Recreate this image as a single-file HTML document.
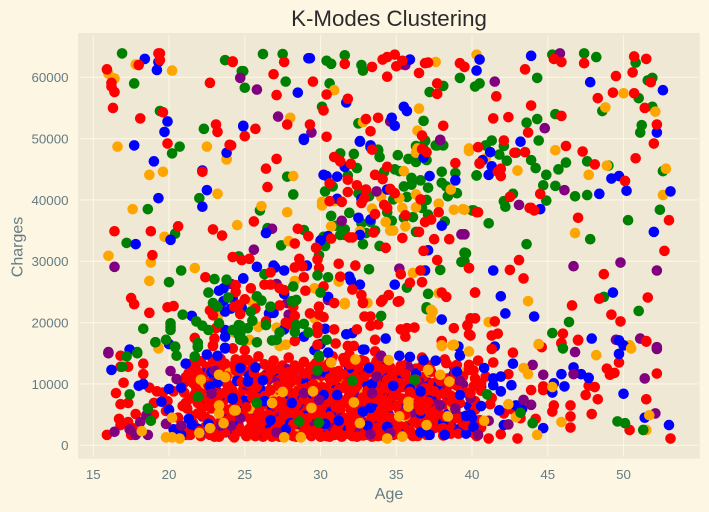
<!DOCTYPE html>
<html lang="en">
<head>
<meta charset="utf-8">
<title>K-Modes Clustering</title>
<style>
html,body{margin:0;padding:0;background:#FDF6E3;}
body{width:709px;height:512px;overflow:hidden;}
svg{display:block;font-family:"Liberation Sans",Arial,sans-serif;}
.tick{font-size:13.3px;fill:#657b83;}
.axis-title{font-size:16px;fill:#657b83;}
</style>
</head>
<body>
<svg id="chart" width="709" height="512" viewBox="0 0 709 512" xmlns="http://www.w3.org/2000/svg">
<rect x="0" y="0" width="709" height="512" fill="#FDF6E3"/>
<rect x="78" y="33" width="621.7" height="425.7" fill="#EEE8D5"/>
<g id="grid"></g>
<g id="marks"></g>
<g id="xticks"></g>
<g id="yticks"></g>
<text x="389" y="26" text-anchor="middle" font-size="22.3" fill="#2b2b2b">K-Modes Clustering</text>
<text class="axis-title" x="389" y="499" text-anchor="middle">Age</text>
<text class="axis-title" x="22.5" y="247" text-anchor="middle" transform="rotate(-90 22.5 247)">Charges</text>
</svg>
<script>
const xTickValues=[15,20,25,30,35,40,45,50];
const yTickValues=[0,10000,20000,30000,40000,50000,60000];

const carpetBlue=[[21.5,3000],[22.4,6500],[23.1,9000],[24.0,3000],[24.8,6800],[25.5,2600],[26.1,5000],[26.6,8200],[27.2,10800],[27.9,4400],[28.4,7400],[28.9,2400],[29.3,10300],[30.0,5800],[30.7,3000],[31.4,9600],[32.0,6200],[32.6,12000],[33.2,2500],[33.9,8000],[34.5,5000],[35.1,11000],[35.8,3200],[36.4,6800],[37.0,10500],[37.7,4400],[38.4,7600],[39.1,2600],[39.8,6400],[40.6,9500]];
const carpetPurple=[[22.0,8200],[23.4,2600],[24.6,5200],[25.7,3300],[26.4,11500],[27.5,6300],[28.2,11800],[28.7,3800],[29.6,1900],[30.4,12500],[31.1,5000],[31.8,2400],[32.4,8700],[33.6,3500],[34.2,12800],[35.0,2700],[35.6,9700],[36.2,4300],[37.4,8200],[38.6,3400],[39.4,9900]];
const carpetOrange=[[22.9,3700],[24.1,8300],[25.2,1500],[26.9,7600],[27.7,3000],[28.6,9600],[29.8,3300],[30.9,7400],[31.5,1700],[32.2,10400],[33.0,5200],[34.8,6900],[35.4,12400],[36.7,2500],[38.0,5800],[39.6,12100]];
const carpetRed=[
[20.7,2300],[20.9,6400],[21.0,10200],[21.2,2100],[21.6,3600],[21.9,5200],[21.4,7600],[21.8,9300],[21.3,11800],[21.7,12900],
[22.1,1500],[22.4,3000],[22.7,4100],[22.2,6100],[22.6,7400],[22.3,9100],[22.8,10400],[22.5,12800],[22.9,13900],
[23.1,1900],[23.5,2900],[23.8,4500],[23.2,6000],[23.6,7300],[23.9,9200],[23.3,10800],[23.7,12400],[23.4,14100],
[24.2,1600],[24.6,3200],[24.9,4700],[24.3,6300],[24.7,8000],[24.1,9700],[24.5,11300],[24.8,12900],[24.4,14000],[24.0,2400],[24.4,5400],[24.9,9100],
[25.1,1500],[25.5,2100],[25.8,3900],[25.2,5100],[25.6,6600],[25.9,7900],[25.3,8900],[25.7,10600],[25.1,12000],[25.5,13300],[25.9,14500],[25.4,3000],
[26.2,1400],[26.6,2500],[26.9,3600],[26.3,4800],[26.7,5900],[26.1,7200],[26.5,8800],[26.8,9900],[26.2,11100],[26.6,12700],[26.9,13800],[26.4,6800],
[27.1,1800],[27.4,3100],[27.8,4200],[27.2,5300],[27.6,6700],[27.9,7700],[27.3,9000],[27.7,10300],[27.1,11700],[27.5,13000],[27.9,14300],[27.5,2300],
[28.2,1500],[28.6,2900],[28.9,3500],[28.3,5100],[28.7,6200],[28.1,7500],[28.5,8900],[28.8,9800],[28.2,11200],[28.6,12500],[28.9,13600],[28.4,4200],
[29.1,2000],[29.5,2800],[29.9,4300],[29.2,5600],[29.6,6800],[29.0,7900],[29.4,9300],[29.8,10700],[29.2,11600],[29.5,12900],[29.9,14200],[29.3,3500],
[30.1,1600],[30.5,2400],[30.8,3900],[30.2,4900],[30.6,6400],[30.9,7600],[30.3,9100],[30.7,10200],[30.1,11400],[30.5,13200],[30.8,14500],[30.4,8300],
[31.2,1700],[31.6,2900],[31.9,4600],[31.3,5700],[31.7,6900],[31.1,8000],[31.5,9400],[31.8,10800],[31.2,12100],[31.6,13500],[31.9,14800],[31.4,3600],
[32.1,1500],[32.5,2600],[32.9,3700],[32.2,5300],[32.6,6600],[32.0,7800],[32.4,9500],[32.8,10300],[32.2,11600],[32.5,12600],[32.9,13700],[32.3,4400],
[33.1,1700],[33.5,2400],[33.8,4200],[33.2,5400],[33.6,6900],[33.0,7700],[33.4,9300],[33.8,10900],[33.2,11900],[33.6,13100],[33.9,14200],[33.3,3100],
[34.1,1600],[34.5,2700],[34.9,3900],[34.2,5100],[34.6,6400],[34.0,7400],[34.4,8700],[34.8,10500],[34.2,11700],[34.6,12700],[34.0,9700],
[35.1,1800],[35.5,3000],[35.9,4400],[35.2,5700],[35.6,7000],[35.0,8300],[35.4,9500],[35.8,10700],[35.2,12200],[35.7,13200],
[36.1,1500],[36.5,3400],[36.9,4600],[36.2,6000],[36.6,7200],[36.0,8400],[36.4,9800],[36.8,11100],[36.3,12500],[36.7,14300],
[37.1,2200],[37.5,3800],[37.8,5100],[37.2,6300],[37.6,7400],[37.0,8600],[37.4,10100],[37.8,11300],[37.2,13000],
[38.1,1600],[38.5,3100],[38.9,5400],[38.2,6700],[38.6,8100],[38.0,9400],[38.4,10900],[38.8,12800],[38.2,14000],
[39.1,1900],[39.4,3600],[39.8,5000],[39.2,6900],[39.6,8600],[39.0,9700],[39.4,11200],[39.8,12300],
[40.1,2000],[40.5,4100],[40.2,7200],[40.6,8900],[40.1,12200]];
const fillBlue=[
[21.4,4100],[21.9,2700],[22.6,2000],[22.3,11700],[23.4,8100],[23.9,2200],[24.5,10500],[24.2,3800],[25.0,7300],[25.3,11400],[25.8,1800],[26.0,9300],[26.5,3700],[26.8,6400],[27.0,12200],[27.6,8300],[28.0,3600],[28.5,6600],[28.8,10900],[29.0,4800],[29.5,7700],[30.0,2100],[30.3,11900],[30.7,5500],[31.0,9000],[31.5,3200],[31.9,12600],[32.3,7100],[32.7,4000],[33.1,9800],[33.5,6000],[33.9,2400],[34.3,11000],[34.7,7800],[35.0,4300],[35.5,1800],[35.9,9200],[36.3,11700],[36.6,5200],[37.0,2800],[37.3,7500],[37.8,9800],[38.1,3700],[38.4,5100],[38.8,11600],[39.2,8200],[39.6,1900],[40.0,4500]];
const fillPurple=[
[22.2,4700],[23.0,11200],[23.6,5600],[24.4,2200],[25.1,9800],[25.6,4400],[26.3,2000],[26.9,10400],[27.3,4600],[27.8,12400],[28.3,2600],[28.8,7200],[29.4,4000],[29.7,11500],[30.2,6900],[30.8,2800],[31.3,4400],[31.7,10300],[32.4,2100],[32.8,5800],[33.3,7400],[33.8,3800],[34.1,9100],[34.6,3000],[35.2,6500],[35.8,12700],[36.0,5200],[36.5,10400],[37.1,3300],[37.6,6700],[38.3,9200],[38.9,12200],[39.3,4600],[39.9,7700]];
const fillOrange=[[22.4,10000],[24.0,11900],[25.4,6000],[27.0,9400],[28.4,1800],[29.7,9900],[31.3,11000],[32.9,8500],[34.3,2000],[35.6,4800],[37.2,11900],[38.7,6300]];
const fillRed=[
[21.1,1700],[21.5,4800],[21.2,6000],[21.7,8300],[21.5,10600],[21.9,11600],[21.3,13200],
[22.0,2300],[22.4,4600],[22.8,6000],[22.1,8000],[22.6,9800],[22.2,11100],[22.7,12000],
[23.0,1400],[23.3,3600],[23.7,2100],[23.9,5800],[23.2,7600],[23.6,8500],[23.1,10000],[23.8,11200],[23.4,13200],
[24.3,1300],[24.1,4500],[24.7,2300],[24.5,7000],[24.2,8900],[24.8,10300],[24.4,12200],[24.9,13900],
[25.2,2500],[25.7,1500],[25.4,4200],[25.9,5200],[25.1,6200],[25.5,7800],[25.8,9600],[25.3,10000],[25.6,11800],[25.2,13900],
[26.0,3000],[26.4,1800],[26.8,1400],[26.2,4000],[26.6,5000],[26.0,6200],[26.9,7100],[26.3,8000],[26.7,9000],[26.0,10400],[26.5,11000],[26.9,12300],[26.3,13200],
[27.0,2600],[27.3,1400],[27.8,2500],[27.2,3900],[27.6,5000],[27.0,6500],[27.4,7300],[27.9,8800],[27.2,9700],[27.6,11000],[27.9,11900],[27.3,12400],
[28.0,2200],[28.4,1400],[28.8,1700],[28.2,3400],[28.6,4800],[28.0,5800],[28.4,6600],[28.9,7500],[28.2,8300],[28.7,9100],[28.0,10200],[28.4,10700],[28.9,11700],[28.3,13000],
[29.0,2900],[29.4,1500],[29.8,2000],[29.1,4400],[29.5,5100],[29.9,6000],[29.3,6800],[29.7,8200],[29.1,9000],[29.5,10000],[29.9,9400],[29.3,12300],[29.7,13400],
[30.0,3000],[30.4,1500],[30.9,1700],[30.2,3600],[30.6,4700],[30.0,6000],[30.4,7100],[30.8,8500],[30.1,9500],[30.6,10900],[30.9,11900],[30.3,12800],[30.7,13800],
[31.0,2400],[31.4,1400],[31.9,1800],[31.2,3300],[31.6,4400],[31.0,6200],[31.4,7300],[31.9,8300],[31.2,9100],[31.7,10000],[31.1,11000],[31.5,11600],[31.9,13200],
[32.0,3000],[32.4,1400],[32.8,1600],[32.2,3900],[32.6,4800],[32.0,5800],[32.4,7000],[32.8,7800],[32.1,9000],[32.5,10700],[32.9,11200],[32.3,13200],
[33.0,2600],[33.4,1400],[33.8,1500],[33.2,3800],[33.6,4700],[33.0,6300],[33.4,7600],[33.8,8600],[33.1,8900],[33.5,10200],[33.9,12000],[33.3,12700],
[34.0,2200],[34.4,1500],[34.8,1700],[34.1,3700],[34.6,4500],[34.0,5800],[34.4,6900],[34.8,8000],[34.2,9300],[34.7,11300],[34.1,12400],
[35.0,2300],[35.4,1500],[35.8,2500],[35.1,3500],[35.6,5000],[35.0,6400],[35.4,7600],[35.9,8700],[35.2,10100],[35.6,11600],[35.3,13000],
[36.0,2000],[36.4,1500],[36.8,2000],[36.2,3800],[36.6,5700],[36.0,6700],[36.5,7900],[36.9,9300],[36.3,10700],[36.7,12900],
[37.0,1700],[37.5,2800],[37.2,4400],[37.7,5900],[37.0,6900],[37.5,8800],[37.9,10500],[37.3,12000],
[38.0,2700],[38.6,1900],[38.2,4700],[38.7,7000],[38.1,8400],[38.5,9900],[38.9,11600]];

const upperGreen=[
[16.9,63900],[17.7,59000],[19.4,54500],[22.3,51600],[20.7,48700],[20.2,47600],[23.7,62800],[24.9,61000],
[26.2,63800],[27.5,63800],[30.4,62700],[30.7,62200],[31.6,63600],[24.8,61000],[25.0,58300],[27.7,59300],[30.6,59000],[32.7,62000],[32.8,61100],[35.4,62100],[39.2,59900],[38.1,58600],[37.2,57600],[30.1,55200],
[32.5,52500],[36.8,52900],[36.9,49600],[36.4,48600],[37.7,48900],[38.1,48900],[33.8,48000],[40.2,58500],[40.5,59000],[44.3,59900],[43.6,52600],[44.3,53200],[44.4,49700],[41.3,49700],[40.9,48900],[42.1,48800],
[45.3,63700],[47.4,63900],[48.2,63300],[50.8,62400],[51.9,59900],[51.6,59500],[51.0,56600],[48.6,54500],[51.9,55200],[45.5,54000],[51.2,52200],[51.1,51000],
[41.8,47400],[42.3,46400],[40.3,44000],[42.9,47700],[43.9,46500],[44.2,45200],[44.9,44100],[45.7,45000],[46.2,46100],[47.6,46300],[49.0,45600],[52.6,44700],[44.7,42400],[45.5,42300],[46.8,40600],[47.6,40800],
[42.7,41000],[42.1,39800],[42.2,38900],[44.9,39900],[40.1,38300],[41.1,36200],[50.3,36700],[52.4,38400],[47.8,33600],[43.6,32800],[39.6,31300],[39.5,30000],[48.7,24200],[51.0,21900],[46.4,20100],[45.3,18300],
[33.8,48200],[33.9,47000],[27.8,43800],[28.2,40900],[31.3,47600],[32.2,47500],[31.8,44000],[32.4,45200],[34.2,44600],[35.1,47300],[35.8,46700],[36.3,48800],[36.9,49700],[37.6,48900],[37.9,49000],[36.8,48300],[36.3,46200],[37.0,46500],
[30.8,42200],[30.3,41400],[32.5,41100],[33.2,40600],[34.9,45000],[35.2,44700],[38.9,44400],[38.0,44600],[40.3,44000],[38.0,42800],[38.4,40600],[39.0,41100],[38.3,42200],[36.0,43600],[35.5,42200],[36.0,42500],[36.6,43200],[34.6,41700],[37.1,42000],[35.7,40500],[37.0,40000],[34.8,40100],
[26.0,38300],[30.7,37400],[31.9,37900],[36.7,38700],[34.4,38000],[35.5,37100],[36.1,37200],[37.1,37600],[40.0,38300],[33.3,36400],[32.7,36200],[34.7,36600],[38.2,36500],[26.5,35400],[28.9,35100],[31.0,35800],[36.3,34800],[31.6,35200],[31.3,34300],[31.6,34300],[33.0,34600],[33.6,35000],[30.2,34000],[30.3,32500],[27.4,32600],[29.9,31000],[32.8,32800],[33.9,32500],[39.5,31400],[39.3,29900],[37.9,28600],
[26.3,27900],[33.2,28700],[35.7,25700],[37.1,24700],[37.0,22500],[37.0,22200],[18.6,38500],[22.0,40300],[20.4,34500],[17.2,33000],[24.6,30800]];
const upperOrange=[
[16.0,60600],[16.4,59800],[17.8,62100],[20.2,61100],[16.6,48700],[22.5,48700],[23.8,46700],[19.6,44600],[30.9,57900],[28.0,53400],[32.8,52700],[36.5,54900],[36.4,51300],[36.4,48400],[39.8,48000],[37.6,62500],
[40.3,63700],[50.0,57400],[48.8,55100],[52.1,54400],[45.5,48100],[40.9,46800],[43.0,44800],[48.9,45600],[47.7,44100],[52.8,45100],[52.6,40800],[39.5,38400],[46.8,34600],[43.7,23500],[41.1,20100],[44.4,16400],[50.4,16300],
[28.2,43900],[36.3,47700],[39.8,48400],[35.5,44700],[38.6,41700],[36.3,40900],[35.2,40300],[37.8,39400],[34.0,40500],[30.1,39700],[30.1,39100],[30.9,39800],[26.1,39000],[27.8,38000],[33.4,38600],[35.4,38700],[36.3,38800],[38.8,38400],[39.4,38500],[34.3,36400],[30.7,35700],[35.6,35700],[34.8,35000],[34.6,35000],[32.6,34900],[27.9,33300],
[36.1,28100],[31.2,26700],[28.3,26800],[29.6,25600],[32.3,25500],[33.0,23200],[37.8,24800],[31.6,23200],[37.3,22100],[25.5,23400],[31.6,23000],[33.1,23200],[37.4,21800],[37.3,20700],[18.7,44100],[17.6,38500],[23.2,41000],[23.8,46600],[24.5,35900],[19.7,34000],[16.0,30900],[18.8,29800],[21.7,28900],[18.7,26800],[23.2,20900],[19.3,15900],[24.3,18400],[25,17000],[25.9,19300],[27.1,19200],[25.3,17200],[27.3,16200],[27.7,16400],[29.6,20700]];
const upperPurple=[
[24.7,59900],[25.8,58000],[27.2,53600],[29.4,51000],[35.6,62000],[37.9,49800],[34.6,52800],[41.5,59300],[45.8,63900],[44.8,51700],[46.1,41600],[43.1,39200],[39.5,34400],[46.7,29200],[49.8,29800],[52.2,28500],[49.5,17200],[51.1,17400],[52.2,16000],
[37.9,49800],[33.7,41400],[31.4,36600],[26.8,35300],[39.3,34400],[25.6,31900],[35.2,28800],[27.1,26300],[30.5,23700],[27.8,23200],[16.4,29100],[24.1,26300],[27.9,21300],[30.5,23700],[16.0,15200]];
const upperBlue=[
[18.4,63000],[19.3,62500],[19.2,61200],[19.9,52800],[24.9,52100],[19.7,51100],[17.7,48900],[23.8,47700],[19.0,46300],[22.2,44800],
[29.2,63100],[29.3,63100],[28.5,57500],[31.7,55900],[35.9,62900],[35.5,55200],[35.7,54500],[24.9,52000],[28.9,50000],[34.7,53400],[34.9,52100],[32.6,49500],[33.3,48600],
[40.5,62900],[40.3,61100],[43.9,63500],[43.2,49500],[47.8,59200],[52.6,57900],[52.2,51000],[41.2,47800],[40.7,46500],[41.3,45500],[41.1,44100],[49.2,43500],[49.7,43900],[50.2,41500],[48.4,41000],[53.1,41400],[44.5,38500],[52.0,34800],
[28.9,49800],[32.6,49600],[33.3,48900],[36.8,46900],[31.6,45400],[30.2,44100],[30.4,43900],[31.1,43800],[37.2,43900],[38.9,43200],[34.4,41700],[32.7,40200],[31.1,40200],[32.5,37100],[33.3,36800],[38.0,35800],[26.4,34600],[32.6,34300],[30.0,33400],[30.5,34100],[37.1,31800],
[25.8,29100],[26.9,29300],[27.0,29000],[27.6,28500],[29.1,29300],[36.9,28500],[24.9,27200],[31.9,27500],[32.0,26900],[32.6,26200],[34.9,26200],[27.6,24700],[30.5,24200],[24.8,22400],[26.6,21500],[26.9,21600],
[41.4,28500],[49.3,24900],[41.9,24300],[42.2,21500],[44.1,21000],[41.5,16100],[47.9,17400],[49.7,17100],[50.0,16300],[19.3,40300],[22.5,41600],[22.2,38900],[20.1,33500],[17.8,32800],[24.9,27200],[23.3,25200],[23.6,25600],[23.6,23500],[24.2,24000],[23.7,21800],[24.1,22300],[24.7,22000],[21.5,21100],[20.0,16500],[23.7,18800],[23.7,17700],[23.7,15900],[17.4,15600],[30.3,19000],[27.6,18900],[31.7,18100],[32.1,18300],[34.3,17400],[28.9,17700],[30.0,16500],[29.6,15500],[30.5,15100],[38.0,20500],[39.1,16100]];
const upperRed=[
[15.9,61300],[16.2,59100],[16.2,58500],[16.4,57600],[18.0,62000],[19.3,63900],[19.4,63900],[19.4,62800],[22.7,59100],[24.2,62600],[16.3,55000],[19.6,54300],[18.1,53300],[23.1,52300],[23.2,51100],[19.9,49200],[24.0,49000],[22.2,44600],
[27.6,62500],[24.2,62500],[26.9,60500],[27.1,57100],[29.5,59300],[30.4,57200],[31.6,62200],[33.4,61700],[34.1,62900],[34.4,63300],[34.9,63700],[35.4,62700],[35.0,61800],[34.4,60100],[36.5,60700],[36.9,62300],[37.1,62400],[39.2,62300],[37.7,59000],[37.7,57300],
[31.8,56500],[30.2,54600],[27.8,52300],[25.7,51600],[25.0,50400],[29.3,52300],[30.4,50300],[24.1,48900],[33.0,53200],[33.8,53400],[33.3,51200],[38.1,52100],[36.7,50500],[36.7,48300],[33.4,48200],
[43.5,61300],[41.6,56900],[43.9,55400],[41.4,53300],[42.4,53500],[43.7,51000],[42.1,49700],[40.4,48600],[39.5,61700],
[45.4,63000],[45.9,62500],[47.4,62300],[50.7,63400],[51.5,63000],[50.6,60800],[49.5,60200],[51.8,59200],[49.3,57500],[50.7,57400],[48.3,56600],[51.4,55000],[45.9,53700],[52.2,52300],[52.0,49200],[46.2,48800],[47.3,47900],[42.8,47700],[43.5,47800],
[40.5,45900],[41.9,45100],[41.7,44600],[41.9,43900],[48.1,45800],[50.8,46800],[50.1,43100],[42.5,40500],[44.5,41000],[43.8,38700],[43.9,38700],[44.1,38300],[40.4,38000],[47.0,37100],[53.0,36700],[52.7,31700],[43.1,30200],[39.8,28900],[42.5,28600],[43.4,27200],[48.7,27900],[48.4,23900],[40.2,24900],[51.6,24100],[46.6,22800],[49.2,21300],[49.8,20200],[40.2,20700],[41.5,20200],[39.7,19500],[46.0,18200],[39.9,17900],[41.3,17900],[41.7,18200],[45.9,16700],[47.0,17100],[51.5,17000],
[27.1,46700],[26.4,45100],[26.5,42100],[30.9,47000],[31.3,46300],[32.0,45900],[34.4,45400],[33.6,44100],[34.1,43400],[37.0,47800],[38.9,46000],[40.5,46000],[31.8,43300],[30.6,42700],[32.4,42400],[31.8,41300],[33.0,41700],[32.9,40300],[34.6,41800],[34.9,41100],[36.6,40100],[32.7,39500],[34.2,39200],[34.4,38700],[31.4,39700],[30.6,39800],
[25.6,36500],[33.6,37700],[35.6,37500],[37.8,38000],[40.3,38000],[37.3,36800],[36.9,36400],[28.5,35300],[29.2,34100],[36.5,34800],[31.9,33900],[32.1,33900],[33.5,34700],[35.4,33800],[30.7,33700],[28.3,32900],[29.7,32200],[34.3,32200],[37.5,33600],[38.5,33600],[36.8,31700],[39.8,28900],[37.7,30200],[25.3,30400],[29.8,30300],[28.6,30400],
[26.7,28200],[28.3,29000],[28.8,29200],[29.9,28900],[31.2,29600],[32.3,29300],[35.3,27900],[36.6,28500],[28.9,27400],[31.3,27500],[36.7,26600],[35.9,26500],[25.4,25600],[26.3,26200],[26.7,26200],[27.3,25600],[27.6,25300],[29.0,25200],[30.2,25900],[32.1,25400],[32.7,24500],[32.8,23300],[34.5,24500],[34.1,23700],[35.2,23500],[38.0,24900],[38.3,24200],[40.2,24900],[30.9,23200],[29.9,22600],[27.3,22800],[28.2,22600],
[16.4,34900],[18.8,34900],[20.6,35700],[22.9,35200],[23.5,34200],[18.9,31000],[24.2,30700],[24.8,30200],[22.4,27400],[24.4,26100],[24.4,25000],[25,23800],[22.7,22000],[22.9,21200],[24.3,22600],[24.7,21400],[17.5,24000],[17.7,23000],[18.7,21600],[19.9,22500],[20.3,22700],[23.1,19100],[21.7,17500],[23.0,17400],[22.9,16300],[24.2,15800],
[24.6,22900],[25.7,22300],[28.3,21100],[29.3,21500],[29.9,21300],[30.2,20900],[29.9,22600],[32.8,23200],[34.0,23400],[35.1,23400],[39.9,20700],[32.9,21000],[33.3,21000],[26.4,20200],[27.7,20000],[27.9,19800],[29.8,19300],[29.8,18300],[30.9,18900],[32.4,18900],[33.3,19500],[33.8,19700],[35.3,18900],[35.7,19100],[36.2,19200],[35.6,17700],[38.8,19100],[39.7,19600],[39.8,18100],[28.3,17000],[31.0,16600],[33.6,17200],[31.8,16200],[32.2,16200],[29.8,16400],[38.0,17000],[25.0,15500],[33.6,15300],
[44.6,16000],[45.9,16600],[47.0,17200],[51.5,16900],[41.3,15700],[42.7,15100]];

const midGreen=[
[18.3,19000],[20.1,19900],[20.1,19300],[20.1,18800],[19.1,16800],[19.8,17200],[20.4,16000],[21.9,16700],[21.9,16000],[17.9,15200],[20.8,28500],[20.0,26600],[23.0,27100],[23.8,27000],[22.6,24900],[23.9,24100],[22.9,23200],[23.2,22600],[20.9,21300],[21.8,20200],[22.2,19500],[22.6,18800],[23.3,19900],[24.2,18800],[24.7,19500],[24.7,18200],[24.9,17100],
[29.8,27700],[30.5,27400],[28.2,25900],[30.0,24900],[28.4,23700],[28.1,23500],[26.7,22600],[26.1,23600],[25.8,24300],[25.4,21800],[25.5,20300],[26.4,19600],[28.9,19800],[28.4,19600],[24.6,19600],[25.2,19100],[28.3,18500],[27.3,18400],[24.6,18000],[29.2,18400],[24.7,17200],[25.8,16800],[26.8,17100],[27.1,17200],[30.4,17200],[34.0,21100],[26.7,22600],[28.2,23400]];

const overlayRed=[
[16.8,14600],[16.8,12800],[17.3,12800],[18.3,13300],[18.3,11600],[17.0,10200],[18.7,9400],[19.2,8800],[19.6,8600],[16.5,8500],[16.8,6700],[17.3,6900],[19.0,6900],[19.9,7200],[20.3,8800],[21.0,8600],[17.8,5100],[19.0,5000],[19.8,5600],[16.7,4300],[16.8,3300],[17.3,3800],[17.6,2800],[15.9,1700],[17.5,1700],[20.6,4500],[20.6,1600],
[21.7,14000],[22.9,16200],[24.2,15800],[22.1,13700],[21.1,11100],[21.9,12000],[24.3,13100],[23.7,13300],[21.6,10100],[23.8,10100],[23.4,8400],[21.1,6900],[22.8,6900],[24.6,2400],[23.3,1400],[21.4,1700],[22.7,1700],[22.1,5000],[21.9,6900],
[38.3,13400],[39.0,13100],[38.3,8500],[37.2,9000],[37.1,7100],[37.2,5500],[39.0,4400],[38.1,2800],[39.6,3300],[35.9,2400],[31.5,14200],[32.7,13900],[33.7,13700],[34.4,10700],[31.0,10700],[27.6,5200],[25.8,2500],[24.5,2400],[25.9,4200],[25.7,9300],[24.6,12600],[34.0,5500],[34.3,7200],[31.7,7400],[32.8,7100],[33.5,5000],[31.6,4100],[32.3,3600],[33.7,2800],[30.0,1400],[30.6,1400],[31.2,2000],
[40.4,13800],[41.4,13500],[42.4,11600],[39.8,13100],[44.7,9600],[44.7,9000],[47.7,9700],[48.1,9500],[47.5,8200],[48.3,7500],[51.5,7500],[43.9,9000],[42.6,5900],[42.1,5200],[43.2,4400],[45.4,6500],[46.5,6500],[45.3,5500],[46.5,4700],[47.9,5100],[46.5,2900],[44.2,4300],[41.9,1800],[43.0,1100],[41.1,1100],[50.4,2500],[53.1,1100],[48.9,12500],[49.1,11500],[49.4,11800],[52.2,11700],[49.7,13500],[41.2,6700],[41.3,7700],[40.2,5800],[40.6,2900],[40.3,1500],[39.9,8500],[40.2,10900],[40.9,11200],[40.6,10100],[40.1,9600]];
const overlayBlue=[
[17.4,15600],[16.2,12300],[18.0,9700],[18.3,10000],[20.0,9200],[19.5,7100],[20.8,9400],[20.0,5800],[20.3,2600],[20.8,1700],[21.1,13300],[22.5,14800],[23.2,14600],[23.7,15800],[22.8,11900],[24.7,12600],[22.7,9600],[23.2,10200],[24.2,7700],[21.3,4300],[21.5,3400],[22.6,3500],
[35.2,14600],[35.9,14400],[36.8,13900],[37.6,13800],[39.2,14600],[39.0,12000],[36.6,8800],[38.2,1700],[37.2,1700],[36.6,2100],[39.6,4800],[33.2,12600],[32.9,15600],[30.5,15100],[33.4,10000],[34.8,9700],[31.1,8200],[30.2,8200],[26.3,7200],[28.1,6900],[30.3,3500],[26.7,4100],[27.7,2600],[24.2,7500],[25.2,10400],[26.2,10600],[25.7,12700],[31.2,4000],[33.1,3200],[32.8,5500],[33.3,6100],[34.4,3000],[32.8,15600],[39.2,14700],
[40.8,12600],[42.7,13300],[41.9,11200],[41.4,10900],[45.9,11600],[46.7,12700],[47.2,11600],[47.7,11000],[45.4,10100],[45.3,8600],[46.1,9600],[50.0,8400],[42.6,9800],[41.4,9800],[41.9,8800],[42.9,6500],[43.3,5900],[41.8,5700],[44.7,2800],[42.1,3300],[51.4,4500],[53.0,3300],[40.6,6400],[40.1,3000],[39.9,5000],[49.7,14900]];
const overlayPurple=[
[16.0,15000],[20.1,12100],[20.5,10800],[18.5,4900],[18.1,3800],[17.4,2600],[16.4,2200],[17.8,1700],[18.6,1700],[19.8,3500],[20.8,3200],[23.0,12200],[22.8,8400],[23.4,3200],[24.1,3200],[24.7,4400],
[39.2,10500],[37.9,6500],[38.9,6000],[34.0,14600],[33.7,11200],[33.4,8500],[29.9,7400],[28.9,8500],[27.1,2100],[33.3,1800],[34.6,2000],[34.0,14600],[44.0,13100],[44.7,11500],[46.7,11600],[51.4,10900],[43.4,7400],[43.9,6600],[42.4,3400],[52.1,5200],[41.1,4000],[40.4,1700],[46.8,15200],[52.2,15700]];
const overlayOrange=[
[19.3,15800],[18.2,2300],[20.2,4500],[19.8,1300],[20.2,1300],[20.7,1100],[22.1,10700],[23.3,11500],[23.7,11100],[23.3,5200],[23.3,6500],[24.4,5700],[22.7,2800],[22.0,2000],[23.6,3600],
[38.0,16300],[38.7,16300],[37.1,12300],[37.9,11500],[38.5,10400],[35.8,7100],[35.8,6300],[35.2,4700],[37.0,3300],[35.4,1400],[38.4,4700],[34.5,13900],[30.7,13500],[32.3,14000],[29.5,8800],[29.4,6100],[27.5,8700],[26.8,6900],[27.6,1300],[28.7,1300],[24.3,5700],[32.6,3600],[34.4,1100],[32.2,7000],
[44.4,16500],[48.2,14700],[50.5,15800],[43.4,12600],[43.7,11600],[45.3,9500],[42.4,6700],[42.9,4600],[45.9,3800],[44.3,1700],[51.7,4900],[51.5,2500],[40.8,4000],[38.0,16200],[38.8,16400],[39.8,15300]];
const overlayGreen=[
[17.2,14500],[17.9,15000],[16.9,12800],[17.4,8300],[18.6,6000],[18.8,4000],[19.1,16800],[20.4,16100],[20.5,14600],[21.7,14500],[21.9,16100],[21.9,7900],
[36.2,10700],[29.9,14600],[29.8,12200],[32.1,10500],[25.8,6900],[28.6,3900],[29.9,3700],[29.9,14500],
[41.0,8300],[43.2,5300],[44.0,3600],[49.6,3900],[50.1,3600],[51.3,2500],[46.0,15800]];

const clusterColors=["red","blue","green","purple","orange"];
const layers=[
  [carpetBlue,1],[carpetPurple,3],[carpetOrange,4],[carpetRed,0],[fillBlue,1],[fillPurple,3],[fillOrange,4],[fillRed,0],
  [upperGreen,2],[upperOrange,4],[upperPurple,3],[upperBlue,1],[upperRed,0],[midGreen,2],
  [overlayRed,0],[overlayBlue,1],[overlayPurple,3],[overlayOrange,4],[overlayGreen,2]
];

const NS="http://www.w3.org/2000/svg";
function xScale(age){return 93.3+(age-15)*15.15;}
function yScale(charge){return 445.3-charge*0.006133;}

const gridG=document.getElementById("grid");
const xticksG=document.getElementById("xticks");
const yticksG=document.getElementById("yticks");
const marksG=document.getElementById("marks");

xTickValues.forEach(function(v){
  const l=document.createElementNS(NS,"line");
  
  
  l.setAttribute("x1",xScale(v));l.setAttribute("x2",xScale(v));
  l.setAttribute("y1",35);l.setAttribute("y2",456.8);
  l.setAttribute("stroke","#FDF6E3");l.setAttribute("stroke-width","1.1");
  gridG.appendChild(l);
  const t=document.createElementNS(NS,"text");
  
  
  t.setAttribute("class","tick");
  t.setAttribute("x",xScale(v));t.setAttribute("y",479);
  t.setAttribute("text-anchor","middle");
  t.textContent=String(v);
  xticksG.appendChild(t);
});
yTickValues.forEach(function(v){
  const l=document.createElementNS(NS,"line");
  
  
  l.setAttribute("x1",80);l.setAttribute("x2",698);
  l.setAttribute("y1",yScale(v));l.setAttribute("y2",yScale(v));
  l.setAttribute("stroke","#FDF6E3");l.setAttribute("stroke-width","1.1");
  gridG.appendChild(l);
  const t=document.createElementNS(NS,"text");
  
  
  t.setAttribute("class","tick");
  t.setAttribute("x",68.5);t.setAttribute("y",yScale(v)+4.8);
  t.setAttribute("text-anchor","end");
  t.textContent=String(v);
  yticksG.appendChild(t);
});
layers.forEach(function(layer){
  const pts=layer[0],color=clusterColors[layer[1]];
  pts.forEach(function(p){
    const c=document.createElementNS(NS,"circle");
    
    
    c.setAttribute("cx",xScale(p[0]));
    c.setAttribute("cy",yScale(p[1]));
    c.setAttribute("r",5.3);
    c.setAttribute("fill",color);
    marksG.appendChild(c);
  });
});
</script>
</body>
</html>
